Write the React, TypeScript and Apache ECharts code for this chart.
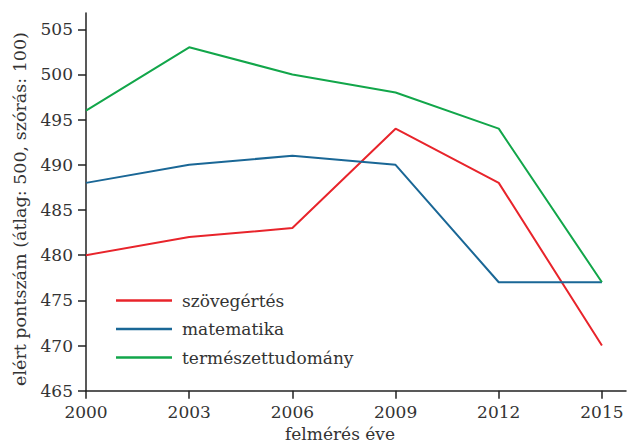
import React, { useEffect, useRef } from "react";
import * as echarts from "echarts";

const years = [2000, 2003, 2006, 2009, 2012, 2015];
const szovegertes = [480, 482, 483, 494, 488, 470];
const matematika = [488, 490, 491, 490, 477, 477];
const termeszettudomany = [496, 503, 500, 498, 494, 477];
const yTicks = [465, 470, 475, 480, 485, 490, 495, 500, 505];
const xTicks = [2000, 2003, 2006, 2009, 2012, 2015];

const FONT = "DejaVu Serif";
const TXT = "#333";

export default function App() {
  const ref = useRef<HTMLDivElement>(null);
  useEffect(() => {
    const chart = echarts.init(ref.current!, null, { renderer: "svg" });
    const mk = (name: string, data: number[], color: string) => ({
      name,
      type: "line",
      data: years.map((y, i) => [y, data[i]]),
      showSymbol: false,
      symbol: "none",
      lineStyle: { color, width: 2 },
      itemStyle: { color },
    });
    chart.setOption({
      animation: false,
      backgroundColor: "#fff",
      grid: { left: 86, right: 1, top: 13, bottom: 55.3 },
      legend: {
        orient: "vertical",
        left: 111,
        top: 285.5,
        icon: "rect",
        itemWidth: 56,
        itemHeight: 2.5,
        itemGap: 8.5,
        textStyle: { fontFamily: FONT, fontSize: 17, color: TXT, lineHeight: 20, padding: [0, 0, 0, 5] },
        data: ["szövegértés", "matematika", "természettudomány"],
      },
      xAxis: {
        type: "value",
        min: 2000,
        max: 2015.7,
        splitLine: { show: false },
        axisLine: { lineStyle: { color: "#222", width: 1.5 } },
        axisTick: { show: true, length: 8, lineStyle: { color: "#222", width: 1.5 }, customValues: xTicks },
        axisLabel: {
          customValues: xTicks,
          fontFamily: FONT,
          fontSize: 17,
          color: TXT,
          margin: 13,
          formatter: (v: number) => String(v),
        },
      },
      yAxis: {
        type: "value",
        min: 465,
        max: 506.8,
        splitLine: { show: false },
        axisLine: { show: true, lineStyle: { color: "#222", width: 1.5 } },
        axisTick: { show: true, length: 8, lineStyle: { color: "#222", width: 1.5 }, customValues: yTicks },
        axisLabel: {
          customValues: yTicks,
          fontFamily: FONT,
          fontSize: 17,
          color: TXT,
          margin: 13,
          formatter: (v: number) => String(v),
        },
      },
      graphic: [
        {
          type: "text",
          left: 285,
          top: 425,
          style: { text: "felmérés éve", fontFamily: FONT, fontSize: 17, fill: TXT },
        },
        {
          type: "text",
          x: 20,
          y: 209,
          rotation: Math.PI / 2,
          style: {
            text: "elért pontszám (átlag: 500, szórás: 100)",
            fontFamily: FONT,
            fontSize: 17.5,
            fill: TXT,
            align: "center",
            verticalAlign: "middle",
          },
        },
      ],
      series: [
        mk("szövegértés", szovegertes, "#e8242b"),
        mk("matematika", matematika, "#1a6796"),
        mk("természettudomány", termeszettudomany, "#12a64a"),
      ],
    });
    return () => chart.dispose();
  }, []);
  return <div ref={ref} style={{ width: 627, height: 446, position: "absolute", left: 0, top: 0 }} />;
}
